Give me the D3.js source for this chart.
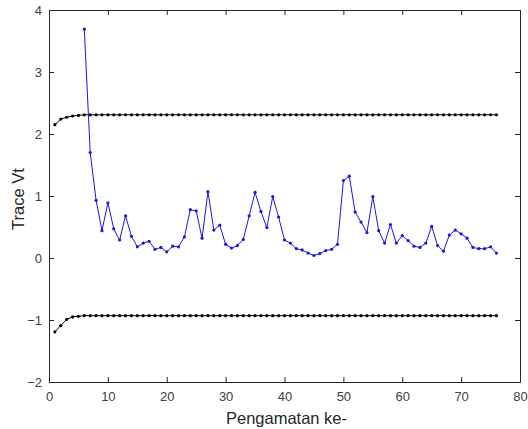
<!DOCTYPE html>
<html>
<head>
<meta charset="utf-8">
<script src="https://cdn.jsdelivr.net/npm/d3@7"></script>
<style>
  body { margin: 0; background: #fff; }
  svg text { font-family: "Liberation Sans", Arial, sans-serif; }
</style>
</head>
<body>
<div class="chart"></div>
<script>
// observations 6..76 of the trace statistic
var traceStart = 6;
var traceValues = [3.69, 1.70, 0.93, 0.44, 0.89, 0.47, 0.29, 0.68, 0.35, 0.18,
  0.24, 0.27, 0.14, 0.17, 0.10, 0.19, 0.18, 0.34, 0.78, 0.76,
  0.32, 1.07, 0.45, 0.53, 0.22, 0.16, 0.20, 0.30, 0.68, 1.06,
  0.75, 0.49, 0.99, 0.66, 0.29, 0.24, 0.15, 0.13, 0.08, 0.04,
  0.07, 0.12, 0.14, 0.22, 1.25, 1.32, 0.74, 0.58, 0.41, 0.99,
  0.44, 0.24, 0.54, 0.24, 0.36, 0.28, 0.19, 0.17, 0.24, 0.51,
  0.20, 0.11, 0.37, 0.45, 0.39, 0.32, 0.17, 0.15, 0.15, 0.18, 0.08];

// control limits, observations 1..76
var upperLimit = [2.15, 2.24, 2.27, 2.29, 2.30, 2.31, 2.31, 2.31, 2.31, 2.31,
  2.31, 2.31, 2.31, 2.31, 2.31, 2.31, 2.31, 2.31, 2.31, 2.31,
  2.31, 2.31, 2.31, 2.31, 2.31, 2.31, 2.31, 2.31, 2.31, 2.31,
  2.31, 2.31, 2.31, 2.31, 2.31, 2.31, 2.31, 2.31, 2.31, 2.31,
  2.31, 2.31, 2.31, 2.31, 2.31, 2.31, 2.31, 2.31, 2.31, 2.31,
  2.31, 2.31, 2.31, 2.31, 2.31, 2.31, 2.31, 2.31, 2.31, 2.31,
  2.31, 2.31, 2.31, 2.31, 2.31, 2.31, 2.31, 2.31, 2.31, 2.31,
  2.31, 2.31, 2.31, 2.31, 2.31, 2.31];
var lowerLimit = [-1.19, -1.09, -0.99, -0.95, -0.94, -0.93, -0.93, -0.93, -0.93, -0.93,
  -0.93, -0.93, -0.93, -0.93, -0.93, -0.93, -0.93, -0.93, -0.93, -0.93,
  -0.93, -0.93, -0.93, -0.93, -0.93, -0.93, -0.93, -0.93, -0.93, -0.93,
  -0.93, -0.93, -0.93, -0.93, -0.93, -0.93, -0.93, -0.93, -0.93, -0.93,
  -0.93, -0.93, -0.93, -0.93, -0.93, -0.93, -0.93, -0.93, -0.93, -0.93,
  -0.93, -0.93, -0.93, -0.93, -0.93, -0.93, -0.93, -0.93, -0.93, -0.93,
  -0.93, -0.93, -0.93, -0.93, -0.93, -0.93, -0.93, -0.93, -0.93, -0.93,
  -0.93, -0.93, -0.93, -0.93, -0.93, -0.93];

var xTicks = [0, 10, 20, 30, 40, 50, 60, 70, 80];
var yTicks = [-2, -1, 0, 1, 2, 3, 4];

var margin = {top: 10, right: 8, bottom: 47, left: 49},
  width = 528 - margin.left - margin.right,
  height = 429 - margin.top - margin.bottom;

var svg = d3.select('.chart')
  .append('svg')
  .attr('width', 528)
  .attr('height', 429)
  .append('g')
  .attr('transform', 'translate(' + margin.left + ',' + margin.top + ')');

var x = d3.scaleLinear().domain([0, 80]).range([0, width]);
var y = d3.scaleLinear().domain([-2, 4]).range([height, 0]);

function styleAxis(g) {
  g.select('.domain').attr('stroke', '#262626');
  g.selectAll('.tick line').attr('stroke', '#262626');
  g.selectAll('.tick text').attr('fill', '#404040').style('font-size', '13px');
}

// box axes, ticks pointing inward
svg.append('g')
  .attr('transform', 'translate(0,' + height + ')')
  .call(d3.axisBottom(x).tickValues(xTicks).tickFormat(d3.format('d'))
    .tickSizeInner(-5).tickSizeOuter(0).tickPadding(10))
  .call(styleAxis);
svg.append('g')
  .call(d3.axisTop(x).tickValues(xTicks).tickSizeInner(-5).tickSizeOuter(0).tickFormat(''))
  .call(styleAxis);
svg.append('g')
  .call(d3.axisLeft(y).tickValues(yTicks).tickFormat(d3.format('d'))
    .tickSizeInner(-5).tickSizeOuter(0).tickPadding(7))
  .call(styleAxis);
svg.append('g')
  .attr('transform', 'translate(' + width + ',0)')
  .call(d3.axisRight(y).tickValues(yTicks).tickSizeInner(-5).tickSizeOuter(0).tickFormat(''))
  .call(styleAxis);

var line = d3.line()
  .x(function (d) { return x(d.i); })
  .y(function (d) { return y(d.v); });

function drawSeries(values, start, color) {
  var pts = values.map(function (v, k) { return {i: start + k, v: v}; });
  svg.append('path')
    .datum(pts)
    .attr('fill', 'none')
    .attr('stroke', color)
    .attr('stroke-width', 1)
    .attr('d', line);
  svg.append('g')
    .selectAll('circle')
    .data(pts)
    .join('circle')
    .attr('cx', function (d) { return x(d.i); })
    .attr('cy', function (d) { return y(d.v); })
    .attr('r', 1.6)
    .attr('fill', color);
}

drawSeries(upperLimit, 1, '#000');
drawSeries(lowerLimit, 1, '#000');
drawSeries(traceValues, traceStart, '#1a1ad6');

svg.append('text')
  .attr('transform', 'rotate(-90)')
  .attr('x', -height / 2 - 3)
  .attr('y', -margin.left + 18)
  .attr('dy', '0.35em')
  .attr('fill', '#262626')
  .style('font-size', '16.5px')
  .style('text-anchor', 'middle')
  .text('Trace Vt');

svg.append('text')
  .attr('x', width / 2 + 2)
  .attr('y', height + 36)
  .attr('dy', '0.35em')
  .attr('fill', '#262626')
  .style('font-size', '16.5px')
  .style('text-anchor', 'middle')
  .text('Pengamatan ke-');
</script>
</body>
</html>
